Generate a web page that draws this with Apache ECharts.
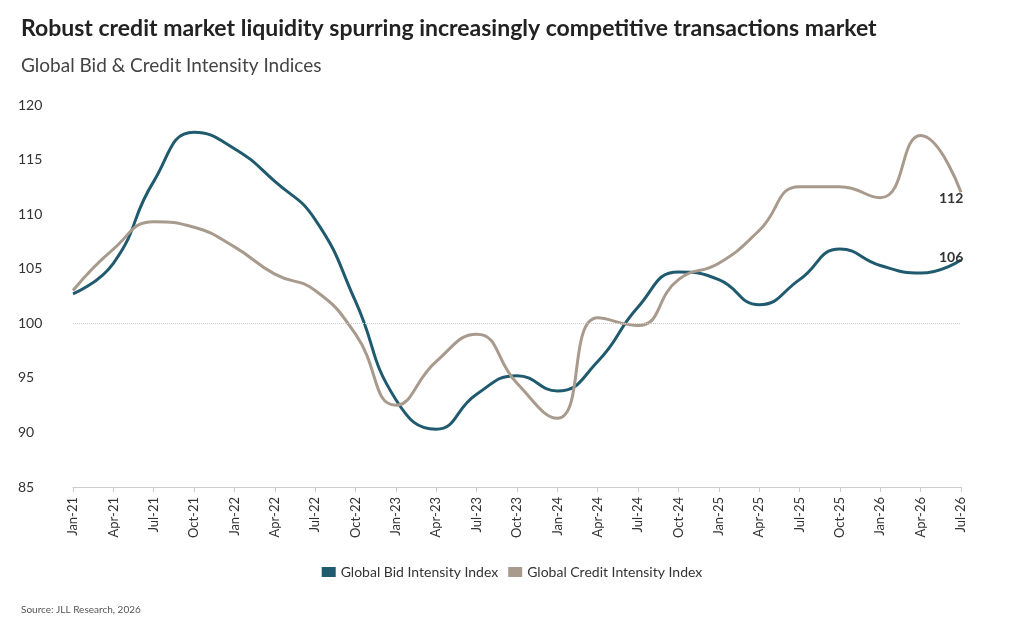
<!DOCTYPE html>
<html><head><meta charset="utf-8">
<script src="https://cdn.jsdelivr.net/npm/echarts@6/dist/echarts.min.js"></script>
<style>body{margin:0;background:#fff}#c{width:1024px;height:638px}</style>
</head><body><div id="c"></div>
<script>
var categories = ['Jan-21','Apr-21','Jul-21','Oct-21','Jan-22','Apr-22','Jul-22','Oct-22','Jan-23','Apr-23','Jul-23','Oct-23','Jan-24','Apr-24','Jul-24','Oct-24','Jan-25','Apr-25','Jul-25','Oct-25','Jan-26','Apr-26','Jul-26'];
var bidIndex = [102.7,105.5,113,117.5,116,113,109.5,102,93,90.3,93.5,95.2,93.8,96.5,101.5,104.7,104,101.7,104,106.8,105.3,104.6,105.8];
var creditIndex = [103,106.8,109.3,108.8,107,104.5,103,99,92.5,96.5,99,94.5,91.3,100.5,99.8,104,105.5,108.5,112.5,112.5,111.5,117.2,112];

var chart = echarts.init(document.getElementById('c'));
var font = 'Lato,"Noto Sans",sans-serif';
function endLabel(arr, dy) {
    return {show: true, fontWeight: 'bold', fontSize: 14, color: '#333', offset: [-30, dy],
        formatter: function () { return Math.round(arr[arr.length - 1]); }};
}
chart.setOption({
    textStyle: {fontFamily: font},
    title: [
        {text: 'Robust credit market liquidity spurring increasingly competitive transactions market', left: 16, top: 12,
            textStyle: {fontSize: 23, fontWeight: 'bold', color: '#222', fontFamily: font}},
        {text: 'Global Bid & Credit Intensity Indices', left: 16, top: 51,
            textStyle: {fontSize: 19, fontWeight: 'normal', color: '#444', fontFamily: font}},
        {text: 'Source: JLL Research, 2026', left: 16, top: 600,
            textStyle: {fontSize: 10, fontWeight: 'normal', color: '#555', fontFamily: font}}
    ],
    legend: {bottom: 54, icon: 'rect', itemWidth: 14, itemHeight: 10, itemGap: 10,
        textStyle: {fontSize: 14, color: '#333'},
        data: ['Global Bid Intensity Index', 'Global Credit Intensity Index']},
    grid: {left: 73, right: 63, top: 105, bottom: 151},
    xAxis: {type: 'category', data: categories, boundaryGap: false,
        axisLine: {lineStyle: {color: '#ccc'}}, axisTick: {show: true, lineStyle: {color: '#ccc'}},
        axisLabel: {rotate: 90, fontSize: 13, color: '#333', margin: 10}},
    yAxis: {type: 'value', min: 85, max: 120, interval: 5,
        axisLabel: {fontSize: 14, color: '#333', margin: 55, align: 'left'},
        splitLine: {show: false}},
    series: [
        {name: 'Global Bid Intensity Index', type: 'line', smooth: true, showSymbol: false, data: bidIndex,
            itemStyle: {color: '#1f5a6e'}, lineStyle: {width: 3, color: '#1f5a6e'},
            endLabel: endLabel(bidIndex, -2),
            markLine: {silent: true, symbol: 'none', label: {show: false},
                lineStyle: {color: '#ccc', type: 'dotted', width: 1}, data: [{yAxis: 100}]}},
        {name: 'Global Credit Intensity Index', type: 'line', smooth: true, showSymbol: false, data: creditIndex,
            itemStyle: {color: '#a89a8c'}, lineStyle: {width: 3, color: '#a89a8c'},
            endLabel: endLabel(creditIndex, 6)}
    ]
});
</script></body></html>
